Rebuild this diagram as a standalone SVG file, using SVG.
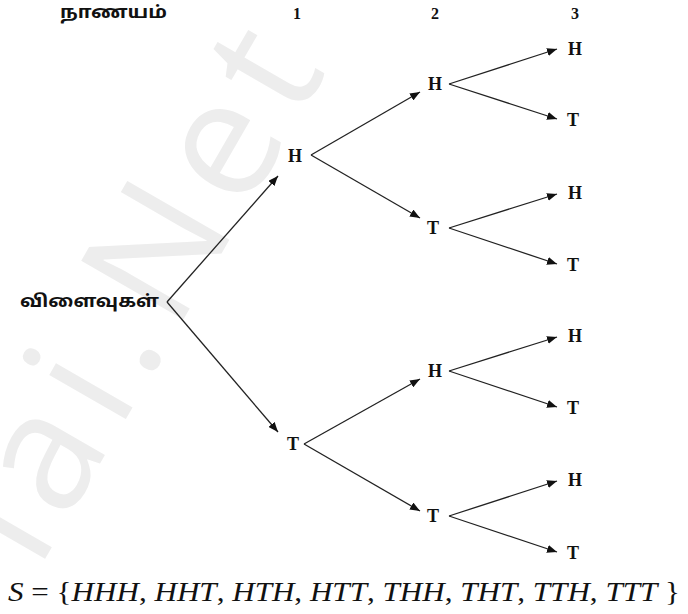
<svg xmlns="http://www.w3.org/2000/svg" width="688" height="614" viewBox="0 0 688 614">
  <style>
    .lbl { font-family: "Liberation Serif", "Times New Roman", serif; font-weight: bold; font-size: 18px; fill: #111; text-anchor: middle; dominant-baseline: central; }
    .hdr { font-family: "Liberation Serif", "Times New Roman", serif; font-weight: bold; font-size: 16px; fill: #111; text-anchor: middle; dominant-baseline: central; }
    .ta { font-family: "Noto Sans Tamil", "Lohit Tamil", "Noto Sans", "DejaVu Sans", sans-serif; font-weight: bold; font-size: 17px; fill: #111; dominant-baseline: central; }
    .edge { stroke: #222; stroke-width: 1.3; fill: none; marker-end: url(#arrow); }
    .math { font-family: "Liberation Serif", "Times New Roman", serif; font-size: 27px; fill: #111; }
    .it { font-style: italic; }
    .wm { font-family: "Open Sans", "Liberation Sans", sans-serif; font-size: 165px; letter-spacing: 14px; fill: #ededed; }
  </style>
  <defs>
    <marker id="arrow" viewBox="0 0 10 8" refX="10" refY="4" markerWidth="10" markerHeight="8" markerUnits="userSpaceOnUse" orient="auto">
      <path d="M0,0 L10,4 L0,8 Z" fill="#111"/>
    </marker>
  </defs>
  <rect width="688" height="614" fill="#fff"/>

  <!-- faint background watermark -->
  <text class="wm" transform="translate(38,571) rotate(-60)">lai.Net</text>

  <!-- column headings -->
  <g id="headings">
    <text class="ta" x="60" y="13" textLength="107" lengthAdjust="spacingAndGlyphs">நாணயம்</text>
    <text class="hdr" x="297" y="13">1</text>
    <text class="hdr" x="435" y="13">2</text>
    <text class="hdr" x="575" y="13">3</text>
  </g>

  <!-- connectors -->
  <g id="edges">
    <path class="edge" d="M167,302 L278,176"/>
    <path class="edge" d="M167,302 L278,432"/>
    <path class="edge" d="M311,155 L420,92"/>
    <path class="edge" d="M311,155 L420,218"/>
    <path class="edge" d="M304,444 L420,379"/>
    <path class="edge" d="M304,444 L420,511"/>
    <path class="edge" d="M449,84 L557,49"/>
    <path class="edge" d="M449,84 L557,119"/>
    <path class="edge" d="M449,228 L557,194"/>
    <path class="edge" d="M449,228 L557,264"/>
    <path class="edge" d="M449,371 L557,337"/>
    <path class="edge" d="M449,371 L557,407"/>
    <path class="edge" d="M449,516 L557,481"/>
    <path class="edge" d="M449,516 L557,552"/>
  </g>

  <!-- root -->
  <g id="root">
    <text class="ta" x="20" y="302" textLength="139" lengthAdjust="spacingAndGlyphs">விளைவுகள்</text>
  </g>

  <!-- toss 1 -->
  <g id="n1H"><text class="lbl" x="295" y="156">H</text></g>
  <g id="n1T"><text class="lbl" x="293" y="444">T</text></g>

  <!-- toss 2 -->
  <g id="n2HH"><text class="lbl" x="435" y="84">H</text></g>
  <g id="n2HT"><text class="lbl" x="433" y="228">T</text></g>
  <g id="n2TH"><text class="lbl" x="435" y="371">H</text></g>
  <g id="n2TT"><text class="lbl" x="433" y="516">T</text></g>

  <!-- toss 3 -->
  <g id="n3HHH"><text class="lbl" x="575" y="49">H</text></g>
  <g id="n3HHT"><text class="lbl" x="573" y="120">T</text></g>
  <g id="n3HTH"><text class="lbl" x="575" y="193">H</text></g>
  <g id="n3HTT"><text class="lbl" x="573" y="265">T</text></g>
  <g id="n3THH"><text class="lbl" x="575" y="336">H</text></g>
  <g id="n3THT"><text class="lbl" x="573" y="408">T</text></g>
  <g id="n3TTH"><text class="lbl" x="575" y="480">H</text></g>
  <g id="n3TTT"><text class="lbl" x="573" y="553">T</text></g>

  <!-- sample space -->
  <g id="sample-space">
    <text class="math" x="8" y="601" textLength="672" lengthAdjust="spacingAndGlyphs"><tspan class="it">S</tspan> = {<tspan class="it">HHH</tspan>, <tspan class="it">HHT</tspan>, <tspan class="it">HTH</tspan>, <tspan class="it">HTT</tspan>, <tspan class="it">THH</tspan>, <tspan class="it">THT</tspan>, <tspan class="it">TTH</tspan>, <tspan class="it">TTT</tspan> }</text>
  </g>
</svg>
